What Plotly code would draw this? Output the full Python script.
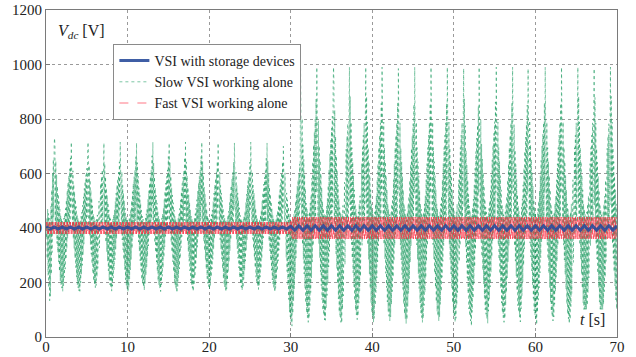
import numpy as np
import plotly.graph_objects as go

# ---------------- data ----------------
# Slow VSI: times of each oscillation peak [s], peak value [V], following trough [V]
slow_peak_t = [1.05, 3.1, 5.15, 7.06, 9.1, 11.07, 13.06, 15.07, 17.07, 19.07, 21.1, 23.1, 25.1, 27.08, 29.1,
               31.2, 33.2, 35.25, 37.2, 39.2, 41.2, 43.2, 45.2, 47.2, 49.2, 51.2, 53.1, 55.2, 57.2, 59.1,
               61.2, 63.2, 65.2, 67.2, 69.2]
slow_peak_v = [730, 715, 715, 712, 715, 712, 715, 712, 715, 715, 712, 712, 715, 712, 700,
               1010, 990, 990, 990, 990, 990, 985, 990, 990, 990, 985, 990, 990, 990, 985,
               990, 990, 990, 985, 990]
slow_trough_v = [165, 160, 175, 165, 160, 170, 165, 160, 165, 170, 160, 165, 170, 160, 40,
                 45, 50, 40, 55, 45, 50, 40, 45, 50, 45, 40, 50, 45, 55, 45,
                 50, 40, 45, 50, 60]
# start of the record (before first peak): times, upper and lower envelope [V]
slow_start_t = [0.0, 0.2, 0.5, 0.8]
slow_start_up = [400, 470, 420, 600]
slow_start_lo = [400, 250, 110, 350]
# shape of one cycle: phase after the peak (fraction of period), upper / lower envelope level
# (+1 = peak, -1 = trough, 0 = 400 V)
cycle_phase = [0.0, 0.04, 0.15, 0.35, 0.5, 0.65, 0.8, 0.93, 0.97]
cycle_up = [1.0, 0.85, 0.5, 0.15, 0.05, 0.2, 0.5, 0.7, 0.85]
cycle_lo = [0.3, 0.05, -0.25, -0.85, -1.0, -0.6, -0.1, 0.05, 0.2]
v_ref = 400

# Fast VSI: band around 400 V before / after the load step at 30 s
fast_t = [0, 29.9, 30.1, 70]
fast_up = [422, 422, 440, 440]
fast_lo = [378, 378, 360, 360]

# VSI with storage devices: small ripple around 400 V
stor_t = [0, 29.9, 30.1, 70]
stor_up = [404, 404, 408, 408]
stor_lo = [396, 396, 392, 392]

x_ticks = [0, 10, 20, 30, 40, 50, 60, 70]
y_ticks = [0, 200, 400, 600, 800, 1000, 1200]

# ---------------- build envelopes ----------------
kt, ku, kl = list(slow_start_t), list(slow_start_up), list(slow_start_lo)
for i, tp in enumerate(slow_peak_t):
    per = (slow_peak_t[i + 1] - tp) if i + 1 < len(slow_peak_t) else 2.0
    pk, tr = slow_peak_v[i], slow_trough_v[i]
    for ph, fu, fl in zip(cycle_phase, cycle_up, cycle_lo):
        kt.append(tp + ph * per)
        ku.append(v_ref + fu * ((pk - v_ref) if fu >= 0 else (v_ref - tr)))
        kl.append(v_ref + fl * ((pk - v_ref) if fl >= 0 else (v_ref - tr)))


def zigzag(t, knot_t, up, lo):
    u = np.interp(t, knot_t, up)
    l = np.interp(t, knot_t, lo)
    return np.where(np.arange(len(t)) % 2 == 0, u, l)


t_slow = np.arange(0, 70.0001, 0.05)
y_slow = zigzag(t_slow, kt, ku, kl)
# make sure each read peak is drawn
idx = np.clip(np.searchsorted(t_slow, slow_peak_t), 0, len(t_slow) - 1)
y_slow[idx] = np.maximum(y_slow[idx], np.array(slow_peak_v, dtype=float))

t_fast = np.arange(0, 70.0001, 0.06)
y_fast = zigzag(t_fast, fast_t, fast_up, fast_lo)
t_stor = np.arange(0, 70.0001, 0.5)
y_stor = zigzag(t_stor, stor_t, stor_up, stor_lo)

font_serif = "Liberation Serif"

fig = go.Figure()
fig.add_trace(go.Scatter(x=t_slow, y=y_slow, mode="lines", name="Slow VSI working alone",
                         line=dict(color="rgba(20,150,90,0.7)", width=0.8, dash="dot"), legendrank=2))
fig.add_trace(go.Scatter(x=t_fast, y=y_fast, mode="lines", name="Fast VSI working alone",
                         line=dict(color="rgba(255,40,60,0.7)", width=0.9, dash="dash"), legendrank=3))
fig.add_trace(go.Scatter(x=t_stor, y=y_stor, mode="lines", name="VSI with storage devices",
                         line=dict(color="rgba(42,77,155,0.9)", width=3), legendrank=1))

axis_common = dict(showgrid=True, gridcolor="#9a9a9a", griddash="dot", gridwidth=1,
                   showline=True, linecolor="#7a7a7a", linewidth=1, mirror=True,
                   ticks="inside", ticklen=4, tickcolor="#7a7a7a", zeroline=False,
                   automargin=False,
                   tickfont=dict(family=font_serif, size=15, color="#222"))
fig.update_xaxes(range=[0, 70], tickvals=x_ticks, ticklabelstandoff=-4, **axis_common)
fig.update_yaxes(range=[0, 1200], tickvals=y_ticks, **axis_common)

fig.update_layout(
    width=636, height=357,
    margin=dict(l=46, r=19, t=10, b=20),
    plot_bgcolor="white", paper_bgcolor="white",
    showlegend=True,
    legend=dict(x=0.118, y=0.896, xanchor="left", yanchor="top",
                bgcolor="white", bordercolor="#8a8a8a", borderwidth=1,
                font=dict(family=font_serif, size=14, color="#222"),
                itemwidth=30, tracegroupgap=0),
    annotations=[
        dict(text="<i>V</i><sub><i>dc</i></sub> [V]", x=0.018, y=0.935, xref="paper", yref="paper",
             xanchor="left", yanchor="middle", showarrow=False,
             font=dict(family=font_serif, size=16, color="#222"), bgcolor="white"),
        dict(text="<i>t</i> [s]", x=0.982, y=0.055, xref="paper", yref="paper",
             xanchor="right", yanchor="middle", showarrow=False,
             font=dict(family=font_serif, size=16, color="#222"), bgcolor="white"),
    ],
)

fig.write_html("out.html")
